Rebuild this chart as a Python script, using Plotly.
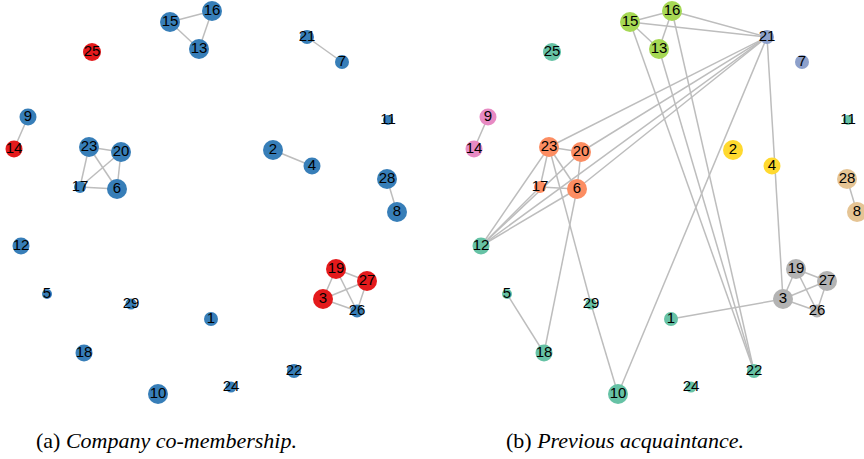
import plotly.graph_objects as go

# Node layout (shared by both panels), node diameters
node_ids = [1, 2, 3, 4, 5, 6, 7, 8, 9, 10, 11, 12, 13, 14, 15,
            16, 17, 18, 19, 20, 21, 22, 23, 24, 25, 26, 27, 28, 29]
node_x = [211, 273, 323, 312, 47, 117, 342, 397, 28, 158, 388, 21, 199, 14, 170,
          212, 80, 84, 336, 121, 307, 294, 89, 231, 92, 357, 367, 387, 131]
node_y = [319, 150, 299, 166, 294, 189, 62, 212, 117, 394, 120, 246, 49, 149, 22,
          11, 187, 353, 269, 152, 37, 371, 147, 387, 52, 311, 281, 179, 304]
node_size = [14, 20, 20, 17, 10, 20, 14, 20, 17, 20, 10, 17, 20, 17, 20,
             20, 12, 17, 20, 20, 14, 14, 20, 11, 18, 13, 20, 20, 11]

# (a) company co-membership
edges_a = [(15, 16), (15, 13), (16, 13), (9, 14), (23, 20), (23, 17), (23, 6),
           (20, 17), (20, 6), (17, 6), (21, 7), (2, 4), (28, 8),
           (19, 27), (19, 3), (19, 26), (27, 3), (27, 26), (3, 26)]
red_a = {25, 14, 19, 27, 3}

# (b) previous acquaintance
edges_b = [(15, 16), (15, 13), (16, 13), (15, 21), (16, 21),
           (15, 22), (13, 22), (16, 22),
           (21, 23), (21, 20), (21, 6), (21, 12), (21, 10), (21, 3),
           (12, 23), (12, 17), (12, 20), (12, 6),
           (23, 20), (23, 17), (23, 6), (17, 6), (20, 6),
           (23, 29), (29, 10), (6, 18), (5, 18), (9, 14), (28, 8), (1, 3),
           (19, 27), (19, 3), (19, 26), (27, 3), (27, 26), (3, 26)]
groups_b = {
    "#66c2a5": [25, 11, 12, 5, 29, 18, 10, 1, 24, 22],
    "#a6d854": [15, 16, 13],
    "#8da0cb": [21, 7],
    "#e78ac3": [9, 14],
    "#fc8d62": [23, 20, 17, 6],
    "#ffd92f": [2, 4],
    "#e5c494": [28, 8],
    "#b3b3b3": [19, 27, 3, 26],
}

captions = ["(a) <i>Company co-membership.</i>", "(b) <i>Previous acquaintance.</i>"]

pos = {n: (x, y) for n, x, y in zip(node_ids, node_x, node_y)}

colors_a = ["#e41a1c" if n in red_a else "#377eb8" for n in node_ids]
color_of_b = {n: c for c, members in groups_b.items() for n in members}
colors_b = [color_of_b[n] for n in node_ids]


def edge_trace(edges, xa, ya):
    ex, ey = [], []
    for a, b in edges:
        ex += [pos[a][0], pos[b][0], None]
        ey += [pos[a][1], pos[b][1], None]
    return go.Scatter(x=ex, y=ey, mode="lines", xaxis=xa, yaxis=ya,
                      line=dict(color="#bdbdbd", width=1.5),
                      hoverinfo="skip", showlegend=False)


def node_trace(colors, xa, ya):
    return go.Scatter(x=node_x, y=node_y, mode="markers+text", xaxis=xa, yaxis=ya,
                      text=[str(n) for n in node_ids], textposition="middle center",
                      textfont=dict(family="Liberation Sans", size=15, color="black"),
                      marker=dict(size=node_size, color=colors, opacity=1,
                                  line=dict(width=0)),
                      cliponaxis=False, showlegend=False)


fig = go.Figure()
fig.add_trace(edge_trace(edges_a, "x", "y"))
fig.add_trace(node_trace(colors_a, "x", "y"))
fig.add_trace(edge_trace(edges_b, "x2", "y2"))
fig.add_trace(node_trace(colors_b, "x2", "y2"))

W, H = 864, 459
split = 460
ax = dict(visible=False, showgrid=False, zeroline=False, fixedrange=True)
cap_font = dict(family="Liberation Serif", size=22, color="black")
fig.update_layout(
    width=W, height=H,
    margin=dict(l=0, r=0, t=0, b=0),
    paper_bgcolor="white", plot_bgcolor="white",
    xaxis=dict(ax, domain=[0, split / W], range=[0, split]),
    yaxis=dict(ax, domain=[0, 1], range=[H, 0]),
    xaxis2=dict(ax, domain=[split / W, 1], range=[0, W - split]),
    yaxis2=dict(ax, domain=[0, 1], range=[H, 0]),
    annotations=[
        dict(text=captions[0], x=166 / W, y=1 - 440 / H, xref="paper", yref="paper",
             xanchor="center", yanchor="middle", showarrow=False, font=cap_font),
        dict(text=captions[1], x=625 / W, y=1 - 440 / H, xref="paper", yref="paper",
             xanchor="center", yanchor="middle", showarrow=False, font=cap_font),
    ],
)

fig.write_html("out.html")
